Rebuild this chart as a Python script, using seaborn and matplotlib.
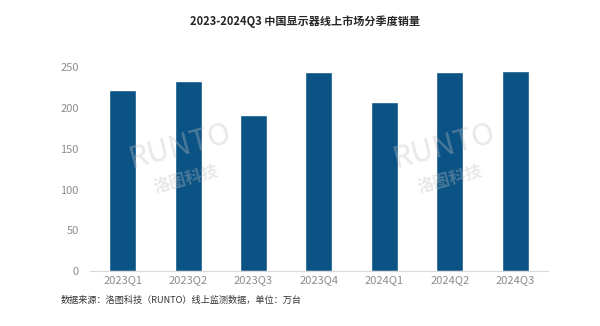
import matplotlib
matplotlib.use("Agg")
import matplotlib.pyplot as plt
import seaborn as sns
import pandas as pd

quarters = ["2023Q1", "2023Q2", "2023Q3", "2023Q4", "2024Q1", "2024Q2", "2024Q3"]
sales = [222, 234, 191, 245, 208, 245, 246]
yticks = [0, 50, 100, 150, 200, 250]
title = "2023-2024Q3 中国显示器线上市场分季度销量"
source = "数据来源：洛图科技（RUNTO）线上监测数据，单位：万台"

sns.set_theme(style="white")
plt.rcParams['font.family'] = ['Noto Sans CJK SC', 'DejaVu Sans']

df = pd.DataFrame({"quarter": quarters, "sales": sales})

fig = plt.figure(figsize=(6, 3.26), dpi=100)
ax = fig.add_axes([0.150, 0.169, 0.763, 0.624])
sns.barplot(data=df, x="quarter", y="sales", color="#0B5384", width=0.41,
            saturation=1, ax=ax)
ax.set_ylim(0, 250)
ax.set_xlim(-0.5, len(quarters) - 0.5)
ax.set_yticks(yticks)
ax.set_xlabel("")
ax.set_ylabel("")
for s in ["left", "right", "top"]:
    ax.spines[s].set_visible(False)
ax.spines["bottom"].set_color("#d9d9d9")
ax.spines["bottom"].set_linewidth(0.8)
ax.tick_params(axis="both", colors="#8c8c8c", labelsize=8, length=0)
ax.tick_params(axis="y", pad=8)
ax.tick_params(axis="x", pad=3)

fig.text(0.508, 0.935, title, ha="center", va="center", fontsize=8,
         fontweight="bold", color="#262626")
fig.text(0.101, 0.079, source, ha="left", va="center", fontsize=6.6,
         color="#333333")

for xw in [0.30, 0.74]:
    fig.text(xw, 0.55, "RUNTO", ha="center", va="center", fontsize=22,
             fontstyle="italic", color="#bfbfbf", alpha=0.35, rotation=15)
    fig.text(xw + 0.01, 0.45, "洛图科技", ha="center", va="center", fontsize=12,
             fontweight="bold", color="#bfbfbf", alpha=0.35, rotation=15)

fig.savefig("out.png", dpi=100)
